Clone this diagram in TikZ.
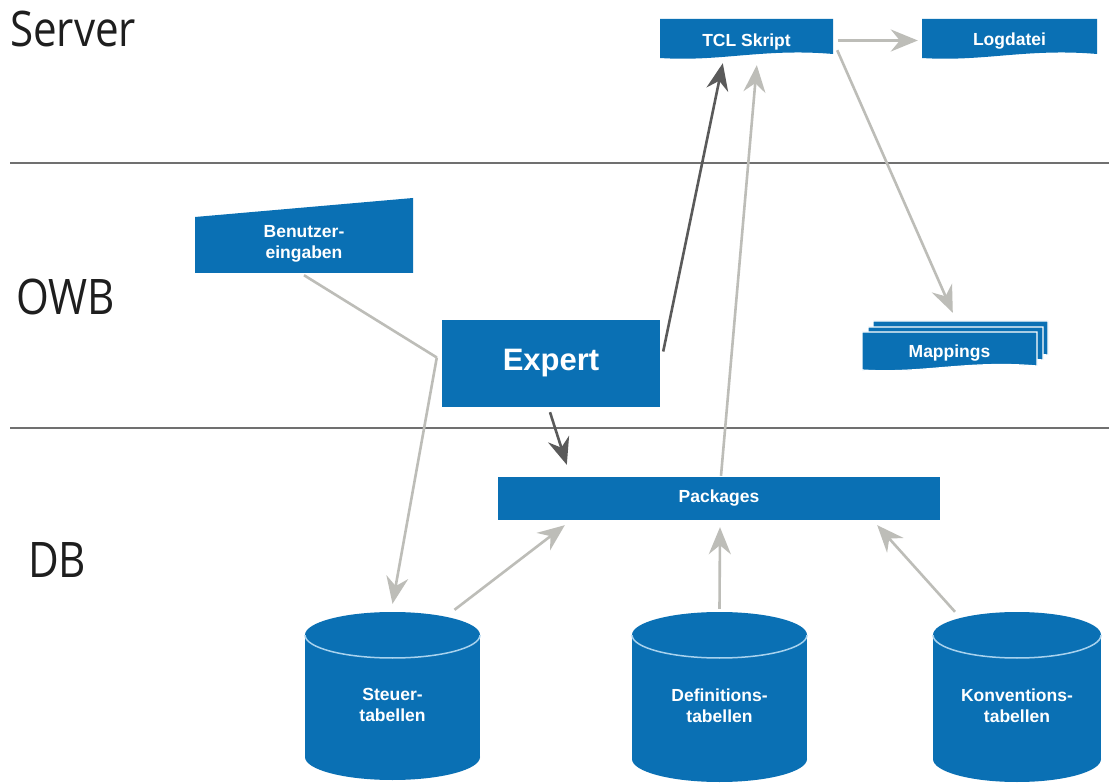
\documentclass[tikz,border=0pt]{standalone}
\usepackage{fontspec}
\setmainfont{Liberation Sans}
\newfontfamily\labfont[FakeStretch=0.86]{Open Sans}
\usetikzlibrary{arrows.meta,calc}
\definecolor{boxblue}{HTML}{0A70B4}
\definecolor{arrowlight}{HTML}{BDBDB8}
\definecolor{arrowdark}{HTML}{5A5A5A}
\definecolor{sepgray}{HTML}{707070}
\definecolor{rimblue}{HTML}{A8D2EE}
\definecolor{labblack}{HTML}{1E1E1E}

\newcommand\docshape[5]{%
  \path[#5] (#1,#2) -- (#3,#2) -- (#3,{#4-4})
    .. controls ({#3-0.4*(#3-#1)},{#4-10}) and ({#1+0.35*(#3-#1)},{#4+4}) .. (#1,#4) -- cycle;}
\newcommand\cylshape[4]{%
  \fill[boxblue] (#1,#3) rectangle (#2,#4);
  \fill[boxblue] ({(#1+#2)/2},#3) ellipse [x radius={(#2-#1)/2}, y radius=23];
  \fill[boxblue] ({(#1+#2)/2},#4) ellipse [x radius={(#2-#1)/2}, y radius=23];
  \begin{scope}
    \clip ({#1-3},#3) rectangle ({#2+3},{#3+30});
    \draw[rimblue, line width=1.5pt] ({(#1+#2)/2},#3) ellipse [x radius={(#2-#1)/2}, y radius=23];
  \end{scope}}

\begin{document}
\begin{tikzpicture}[x=1pt,y=-1pt,
  lbl/.style={font=\labfont\fontsize{49}{49}\selectfont, anchor=base west, inner sep=0pt, text=labblack},
  wt/.style={text=white, font=\bfseries\fontsize{17.5}{21}\selectfont, align=center, inner sep=0pt},
  bluebox/.style={wt, fill=boxblue},
  docfill/.style={fill=boxblue},
  docstack/.style={fill=boxblue, draw=white, line width=1.2pt},
  sep/.style={draw=sepgray, line width=2pt},
  light/.style={draw=arrowlight, line width=2.6pt, -{Stealth[length=27pt,width=22pt,inset=9pt]}},
  lightline/.style={draw=arrowlight, line width=2.6pt, line join=round},
  dark/.style={draw=arrowdark, line width=2.6pt, -{Stealth[length=27pt,width=22pt,inset=9pt]}},
]
\useasboundingbox[fill=white] (0,0) rectangle (1109,783);

% layer separators
\draw[sep] (10,163) -- (1109,163);
\draw[sep] (10,428) -- (1109,428);

% layer labels
\node[lbl] (server) at (10,47) {Server};
\node[lbl] (owb) at (16,315) {OWB};
\node[lbl] (db) at (28,577) {DB};

% shapes
\docshape{660}{19}{833}{58}{docfill}
\docshape{922}{19}{1097}{58}{docfill}
\docshape{873}{321}{1048}{359}{docstack}
\docshape{868}{327}{1043}{364}{docstack}
\docshape{862}{332}{1037}{370}{docstack}
\fill[boxblue] (195,217) -- (413,198) -- (413,273) -- (195,273) -- cycle;
\cylshape{305}{480}{635}{757}
\cylshape{632}{807}{635}{759}
\cylshape{933}{1101}{635}{759}

% nodes
\node[wt, minimum width=173, minimum height=39] (tcl) at (746.5,41.5) {TCL Skript};
\node[wt, minimum width=175, minimum height=39] (logdatei) at (1009.5,41.5) {Logdatei};
\node[wt, minimum width=175, minimum height=38] (mappings) at (949.5,353) {Mappings};
\node[wt, minimum width=218, minimum height=56] (benutzer) at (304,244) {Benutzer-\\eingaben};
\node[bluebox, minimum width=218, minimum height=87, font=\bfseries\fontsize{31}{31}\selectfont] (expert) at (551,363.5) {Expert};
\node[bluebox, minimum width=442, minimum height=43] (packages) at (719,498.5) {Packages};
\node[wt, minimum width=175, minimum height=150] (steuer) at (392.5,705) {Steuer-\\tabellen};
\node[wt, minimum width=175, minimum height=150] (def) at (719.5,706) {Definitions-\\tabellen};
\node[wt, minimum width=168, minimum height=150] (konv) at (1017,706) {Konventions-\\tabellen};

% connectors
\draw[lightline] ($(benutzer.south)+(0,3)$) -- ($(expert.west)+(-5,-6)$);
\draw[light] ($(expert.west)+(-5,-6)$) -- ($(steuer.north)+(0,-26)$);
\draw[dark] ($(expert.south)+(-1,5)$) -- ($(packages.north west)+(69,-12)$);
\draw[dark] ($(expert.east)+(3,-12)$) -- ($(tcl.south west)+(63,2)$);
\draw[light] ($(packages.north)+(2,-1)$) -- ($(tcl.south west)+(97,4)$);
\draw[light] ($(tcl.east)+(5,-1)$) -- ($(logdatei.west)+(-4,-1)$);
\draw[light] ($(tcl.south east)+(4,-11)$) -- ($(mappings.north west)+(91,-21)$);
\draw[light] ($(steuer.north)+(62,-20)$) -- ($(packages.south west)+(67,5)$);
\draw[light] ($(def.north)+(0,-22)$) -- ($(packages.south)+(1,7)$);
\draw[light] ($(konv.north)+(-62,-19)$) -- ($(packages.south east)+(-63,5)$);
\end{tikzpicture}
\end{document}
